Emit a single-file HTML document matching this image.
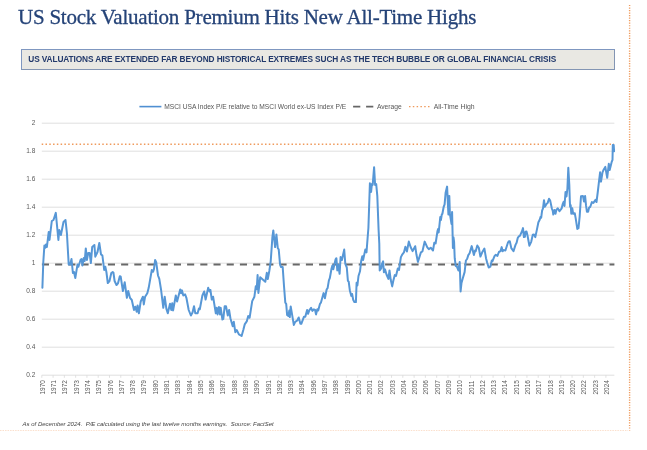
<!DOCTYPE html>
<html><head><meta charset="utf-8">
<title>US Stock Valuation Premium Hits New All-Time Highs</title>
<style>
html,body{margin:0;padding:0;background:#fff;}
body{width:647px;height:450px;position:relative;overflow:hidden;font-family:"Liberation Sans",sans-serif;}
#title{position:absolute;left:18px;top:1.9px;font-family:"Liberation Serif",serif;font-size:21px;line-height:30px;color:#254378;white-space:nowrap;letter-spacing:-0.23px;-webkit-text-stroke:0.3px #254378;}
#box{position:absolute;left:20.9px;top:49.4px;width:592px;height:18.6px;background:#e9e8e3;border:1.1px solid #7f97c0;border-right-width:1.6px;border-bottom-width:1.6px;border-right-color:#8395b3;border-bottom-color:#8395b3;}
#sub{position:absolute;left:28.3px;top:52.3px;font-size:8.3px;line-height:14px;font-weight:bold;color:#22396b;white-space:nowrap;letter-spacing:-0.11px;}
#foot{position:absolute;left:22.6px;top:419.1px;font-size:6px;line-height:10px;font-style:italic;color:#444;white-space:nowrap;}
svg{position:absolute;left:0;top:0;}
.ax{font-family:"Liberation Sans",sans-serif;font-size:6.5px;fill:#5a5a5a;}
.lg{font-family:"Liberation Sans",sans-serif;font-size:6.7px;fill:#555;}
</style></head><body>
<div id="title">US Stock Valuation Premium Hits New All-Time Highs</div>
<div id="box"></div>
<div id="sub">US VALUATIONS ARE EXTENDED FAR BEYOND HISTORICAL EXTREMES SUCH AS THE TECH BUBBLE OR GLOBAL FINANCIAL CRISIS</div>
<svg width="647" height="450" viewBox="0 0 647 450">
<g id="grid">
<line x1="41.8" y1="123.2" x2="614.4" y2="123.2" stroke="#dfdfdf" stroke-width="1"/>
<line x1="41.8" y1="151.2" x2="614.4" y2="151.2" stroke="#dfdfdf" stroke-width="1"/>
<line x1="41.8" y1="179.2" x2="614.4" y2="179.2" stroke="#dfdfdf" stroke-width="1"/>
<line x1="41.8" y1="207.2" x2="614.4" y2="207.2" stroke="#dfdfdf" stroke-width="1"/>
<line x1="41.8" y1="235.2" x2="614.4" y2="235.2" stroke="#dfdfdf" stroke-width="1"/>
<line x1="41.8" y1="263.2" x2="614.4" y2="263.2" stroke="#dfdfdf" stroke-width="1"/>
<line x1="41.8" y1="291.2" x2="614.4" y2="291.2" stroke="#dfdfdf" stroke-width="1"/>
<line x1="41.8" y1="319.2" x2="614.4" y2="319.2" stroke="#dfdfdf" stroke-width="1"/>
<line x1="41.8" y1="347.2" x2="614.4" y2="347.2" stroke="#dfdfdf" stroke-width="1"/>
<line x1="41.8" y1="375.2" x2="614.4" y2="375.2" stroke="#dfdfdf" stroke-width="1"/>
<line x1="41.80" y1="375.2" x2="41.80" y2="377.8" stroke="#d9d9d9" stroke-width="0.8"/>
<line x1="53.08" y1="375.2" x2="53.08" y2="377.8" stroke="#d9d9d9" stroke-width="0.8"/>
<line x1="64.36" y1="375.2" x2="64.36" y2="377.8" stroke="#d9d9d9" stroke-width="0.8"/>
<line x1="75.65" y1="375.2" x2="75.65" y2="377.8" stroke="#d9d9d9" stroke-width="0.8"/>
<line x1="86.93" y1="375.2" x2="86.93" y2="377.8" stroke="#d9d9d9" stroke-width="0.8"/>
<line x1="98.21" y1="375.2" x2="98.21" y2="377.8" stroke="#d9d9d9" stroke-width="0.8"/>
<line x1="109.49" y1="375.2" x2="109.49" y2="377.8" stroke="#d9d9d9" stroke-width="0.8"/>
<line x1="120.77" y1="375.2" x2="120.77" y2="377.8" stroke="#d9d9d9" stroke-width="0.8"/>
<line x1="132.06" y1="375.2" x2="132.06" y2="377.8" stroke="#d9d9d9" stroke-width="0.8"/>
<line x1="143.34" y1="375.2" x2="143.34" y2="377.8" stroke="#d9d9d9" stroke-width="0.8"/>
<line x1="154.62" y1="375.2" x2="154.62" y2="377.8" stroke="#d9d9d9" stroke-width="0.8"/>
<line x1="165.90" y1="375.2" x2="165.90" y2="377.8" stroke="#d9d9d9" stroke-width="0.8"/>
<line x1="177.18" y1="375.2" x2="177.18" y2="377.8" stroke="#d9d9d9" stroke-width="0.8"/>
<line x1="188.47" y1="375.2" x2="188.47" y2="377.8" stroke="#d9d9d9" stroke-width="0.8"/>
<line x1="199.75" y1="375.2" x2="199.75" y2="377.8" stroke="#d9d9d9" stroke-width="0.8"/>
<line x1="211.03" y1="375.2" x2="211.03" y2="377.8" stroke="#d9d9d9" stroke-width="0.8"/>
<line x1="222.31" y1="375.2" x2="222.31" y2="377.8" stroke="#d9d9d9" stroke-width="0.8"/>
<line x1="233.59" y1="375.2" x2="233.59" y2="377.8" stroke="#d9d9d9" stroke-width="0.8"/>
<line x1="244.88" y1="375.2" x2="244.88" y2="377.8" stroke="#d9d9d9" stroke-width="0.8"/>
<line x1="256.16" y1="375.2" x2="256.16" y2="377.8" stroke="#d9d9d9" stroke-width="0.8"/>
<line x1="267.44" y1="375.2" x2="267.44" y2="377.8" stroke="#d9d9d9" stroke-width="0.8"/>
<line x1="278.72" y1="375.2" x2="278.72" y2="377.8" stroke="#d9d9d9" stroke-width="0.8"/>
<line x1="290.00" y1="375.2" x2="290.00" y2="377.8" stroke="#d9d9d9" stroke-width="0.8"/>
<line x1="301.29" y1="375.2" x2="301.29" y2="377.8" stroke="#d9d9d9" stroke-width="0.8"/>
<line x1="312.57" y1="375.2" x2="312.57" y2="377.8" stroke="#d9d9d9" stroke-width="0.8"/>
<line x1="323.85" y1="375.2" x2="323.85" y2="377.8" stroke="#d9d9d9" stroke-width="0.8"/>
<line x1="335.13" y1="375.2" x2="335.13" y2="377.8" stroke="#d9d9d9" stroke-width="0.8"/>
<line x1="346.41" y1="375.2" x2="346.41" y2="377.8" stroke="#d9d9d9" stroke-width="0.8"/>
<line x1="357.70" y1="375.2" x2="357.70" y2="377.8" stroke="#d9d9d9" stroke-width="0.8"/>
<line x1="368.98" y1="375.2" x2="368.98" y2="377.8" stroke="#d9d9d9" stroke-width="0.8"/>
<line x1="380.26" y1="375.2" x2="380.26" y2="377.8" stroke="#d9d9d9" stroke-width="0.8"/>
<line x1="391.54" y1="375.2" x2="391.54" y2="377.8" stroke="#d9d9d9" stroke-width="0.8"/>
<line x1="402.82" y1="375.2" x2="402.82" y2="377.8" stroke="#d9d9d9" stroke-width="0.8"/>
<line x1="414.11" y1="375.2" x2="414.11" y2="377.8" stroke="#d9d9d9" stroke-width="0.8"/>
<line x1="425.39" y1="375.2" x2="425.39" y2="377.8" stroke="#d9d9d9" stroke-width="0.8"/>
<line x1="436.67" y1="375.2" x2="436.67" y2="377.8" stroke="#d9d9d9" stroke-width="0.8"/>
<line x1="447.95" y1="375.2" x2="447.95" y2="377.8" stroke="#d9d9d9" stroke-width="0.8"/>
<line x1="459.23" y1="375.2" x2="459.23" y2="377.8" stroke="#d9d9d9" stroke-width="0.8"/>
<line x1="470.52" y1="375.2" x2="470.52" y2="377.8" stroke="#d9d9d9" stroke-width="0.8"/>
<line x1="481.80" y1="375.2" x2="481.80" y2="377.8" stroke="#d9d9d9" stroke-width="0.8"/>
<line x1="493.08" y1="375.2" x2="493.08" y2="377.8" stroke="#d9d9d9" stroke-width="0.8"/>
<line x1="504.36" y1="375.2" x2="504.36" y2="377.8" stroke="#d9d9d9" stroke-width="0.8"/>
<line x1="515.64" y1="375.2" x2="515.64" y2="377.8" stroke="#d9d9d9" stroke-width="0.8"/>
<line x1="526.93" y1="375.2" x2="526.93" y2="377.8" stroke="#d9d9d9" stroke-width="0.8"/>
<line x1="538.21" y1="375.2" x2="538.21" y2="377.8" stroke="#d9d9d9" stroke-width="0.8"/>
<line x1="549.49" y1="375.2" x2="549.49" y2="377.8" stroke="#d9d9d9" stroke-width="0.8"/>
<line x1="560.77" y1="375.2" x2="560.77" y2="377.8" stroke="#d9d9d9" stroke-width="0.8"/>
<line x1="572.05" y1="375.2" x2="572.05" y2="377.8" stroke="#d9d9d9" stroke-width="0.8"/>
<line x1="583.34" y1="375.2" x2="583.34" y2="377.8" stroke="#d9d9d9" stroke-width="0.8"/>
<line x1="594.62" y1="375.2" x2="594.62" y2="377.8" stroke="#d9d9d9" stroke-width="0.8"/>
<line x1="605.90" y1="375.2" x2="605.90" y2="377.8" stroke="#d9d9d9" stroke-width="0.8"/>
</g>
<g id="ylabels">
<text x="35.3" y="125.2" text-anchor="end" class="ax">2</text>
<text x="35.3" y="153.2" text-anchor="end" class="ax">1.8</text>
<text x="35.3" y="181.2" text-anchor="end" class="ax">1.6</text>
<text x="35.3" y="209.2" text-anchor="end" class="ax">1.4</text>
<text x="35.3" y="237.2" text-anchor="end" class="ax">1.2</text>
<text x="35.3" y="265.2" text-anchor="end" class="ax">1</text>
<text x="35.3" y="293.2" text-anchor="end" class="ax">0.8</text>
<text x="35.3" y="321.2" text-anchor="end" class="ax">0.6</text>
<text x="35.3" y="349.2" text-anchor="end" class="ax">0.4</text>
<text x="35.3" y="377.2" text-anchor="end" class="ax">0.2</text>
</g>
<g id="xlabels">
<text transform="translate(44.90 394.6) rotate(-90)" class="ax">1970</text>
<text transform="translate(56.18 394.6) rotate(-90)" class="ax">1971</text>
<text transform="translate(67.46 394.6) rotate(-90)" class="ax">1972</text>
<text transform="translate(78.75 394.6) rotate(-90)" class="ax">1973</text>
<text transform="translate(90.03 394.6) rotate(-90)" class="ax">1974</text>
<text transform="translate(101.31 394.6) rotate(-90)" class="ax">1975</text>
<text transform="translate(112.59 394.6) rotate(-90)" class="ax">1976</text>
<text transform="translate(123.87 394.6) rotate(-90)" class="ax">1977</text>
<text transform="translate(135.16 394.6) rotate(-90)" class="ax">1978</text>
<text transform="translate(146.44 394.6) rotate(-90)" class="ax">1979</text>
<text transform="translate(157.72 394.6) rotate(-90)" class="ax">1980</text>
<text transform="translate(169.00 394.6) rotate(-90)" class="ax">1981</text>
<text transform="translate(180.28 394.6) rotate(-90)" class="ax">1983</text>
<text transform="translate(191.57 394.6) rotate(-90)" class="ax">1984</text>
<text transform="translate(202.85 394.6) rotate(-90)" class="ax">1985</text>
<text transform="translate(214.13 394.6) rotate(-90)" class="ax">1986</text>
<text transform="translate(225.41 394.6) rotate(-90)" class="ax">1987</text>
<text transform="translate(236.69 394.6) rotate(-90)" class="ax">1988</text>
<text transform="translate(247.98 394.6) rotate(-90)" class="ax">1989</text>
<text transform="translate(259.26 394.6) rotate(-90)" class="ax">1990</text>
<text transform="translate(270.54 394.6) rotate(-90)" class="ax">1991</text>
<text transform="translate(281.82 394.6) rotate(-90)" class="ax">1992</text>
<text transform="translate(293.10 394.6) rotate(-90)" class="ax">1993</text>
<text transform="translate(304.39 394.6) rotate(-90)" class="ax">1994</text>
<text transform="translate(315.67 394.6) rotate(-90)" class="ax">1996</text>
<text transform="translate(326.95 394.6) rotate(-90)" class="ax">1997</text>
<text transform="translate(338.23 394.6) rotate(-90)" class="ax">1998</text>
<text transform="translate(349.51 394.6) rotate(-90)" class="ax">1999</text>
<text transform="translate(360.80 394.6) rotate(-90)" class="ax">2000</text>
<text transform="translate(372.08 394.6) rotate(-90)" class="ax">2001</text>
<text transform="translate(383.36 394.6) rotate(-90)" class="ax">2002</text>
<text transform="translate(394.64 394.6) rotate(-90)" class="ax">2003</text>
<text transform="translate(405.92 394.6) rotate(-90)" class="ax">2004</text>
<text transform="translate(417.21 394.6) rotate(-90)" class="ax">2005</text>
<text transform="translate(428.49 394.6) rotate(-90)" class="ax">2006</text>
<text transform="translate(439.77 394.6) rotate(-90)" class="ax">2007</text>
<text transform="translate(451.05 394.6) rotate(-90)" class="ax">2009</text>
<text transform="translate(462.33 394.6) rotate(-90)" class="ax">2010</text>
<text transform="translate(473.62 394.6) rotate(-90)" class="ax">2011</text>
<text transform="translate(484.90 394.6) rotate(-90)" class="ax">2012</text>
<text transform="translate(496.18 394.6) rotate(-90)" class="ax">2013</text>
<text transform="translate(507.46 394.6) rotate(-90)" class="ax">2014</text>
<text transform="translate(518.74 394.6) rotate(-90)" class="ax">2015</text>
<text transform="translate(530.03 394.6) rotate(-90)" class="ax">2016</text>
<text transform="translate(541.31 394.6) rotate(-90)" class="ax">2017</text>
<text transform="translate(552.59 394.6) rotate(-90)" class="ax">2018</text>
<text transform="translate(563.87 394.6) rotate(-90)" class="ax">2019</text>
<text transform="translate(575.15 394.6) rotate(-90)" class="ax">2020</text>
<text transform="translate(586.44 394.6) rotate(-90)" class="ax">2022</text>
<text transform="translate(597.72 394.6) rotate(-90)" class="ax">2023</text>
<text transform="translate(609.00 394.6) rotate(-90)" class="ax">2024</text>
</g>
<line x1="41.9" y1="264.5" x2="614.4" y2="264.5" stroke="#686868" stroke-width="2.15" stroke-dasharray="7.1 6.1"/>
<line x1="41.7" y1="144.3" x2="614" y2="144.3" stroke="#ef9a5c" stroke-width="1.4" stroke-dasharray="1.5 2.285"/>
<polyline fill="none" stroke="#5797d6" stroke-width="2" stroke-linejoin="round" stroke-linecap="round" points="42.4,287.8 43.3,262 44.4,245.5 45.3,247.8 46,244.4 46.9,247 48.7,232 49.5,240 51.8,221 53.5,220 55.8,212.9 58.4,240 59.3,230 60.9,235 63.5,222 65.5,220 66.9,233 68.7,264.4 70.2,264.4 71.5,259 72.9,273 74,272 75.3,278 77.5,264.4 78.4,266.7 80.7,259.5 81.6,259 82.4,265.5 83.8,258 84.7,261 85.8,248.4 86.9,260 88.2,253 89.6,253 90.9,263 92.2,247 94.4,245 95.3,256.7 97.5,252 99.3,243 101,254.4 102.4,255.5 104.2,270 105.3,266.7 106.4,272 107.8,283 109.5,281 111.3,273 112.7,272 113.4,272.5 114.6,281 116.5,285 118,283.3 119.8,276.2 120.7,276.7 122.9,291 124.7,282.2 126.9,297.8 128.2,291 130,297.8 131.8,300 134,310 135.3,306.7 136.7,311.8 137.6,305.5 138.9,313.3 140.7,301.5 142.9,296.7 143.8,304.4 145.1,296.7 147.3,293.3 148.7,287.8 151.8,270 153.1,271.8 154,268.9 155.1,260 156.2,262.2 158,275.5 159.3,278.9 161.1,290 163.3,307.8 164.7,296.7 166.4,308.9 167.8,313.3 170,303.8 171.3,310 172.2,303.3 173.1,310.4 175.8,295.5 177.1,301.5 180.2,289.5 181.1,293.3 182,290.4 183.3,295.5 185.1,294.4 186.4,297.8 188.7,310 190.9,315.5 192.5,312.5 194,306.2 195.3,313.3 197.6,313.3 198.9,308.4 199.8,309.3 202.4,295.5 204.2,291.5 205.6,299.5 208.2,287.8 209.6,291.5 210.4,290 211.8,299.5 213.1,296.7 215.8,313.3 216.7,307.8 217.6,314.4 218.9,307.1 220,314.4 220.7,307.8 222.4,319.5 223.3,318.9 224.7,306.2 226,306.2 227.8,315.5 229.1,310 230.4,318.2 232.7,326.2 233.8,321.8 235.3,332.2 236.7,330 238.9,334.4 241.6,336 243.3,330 244.7,324.4 246.9,321.1 248.2,316 249.6,317.8 252.2,301.1 254.4,296.7 255.8,286.2 256.7,289.3 257.6,275.1 258.4,292.9 260.2,277.3 263.3,280 265.3,281.8 266.8,272.8 267.8,279.1 269.3,271 270.7,261.5 272.4,237.1 273.3,230.4 275.1,247.1 276.4,234.4 277.8,248.2 278.7,249.3 280,263.8 280.9,267.1 282.7,267.1 284,286 285.3,302.7 286.2,303.8 287.1,314.9 288.4,316 289.3,310.4 289.8,317.1 290.7,306.4 292.9,319.3 293.8,324.9 295.1,322 297.3,320.4 298.7,317.5 300.4,323.8 301.3,323.8 304,316.7 305.3,316.7 307.1,310 308,313.8 309.3,310.4 311.1,307.8 312.4,310.9 313.8,309.3 315.1,310 316,314.4 317.3,309.3 318.2,310.4 320,303.8 320.9,302.7 323.6,293.1 324.9,298.2 326.7,289.3 327.6,288.2 328.9,280.4 329.8,278.2 331.6,268.2 332.4,265.5 333.3,269.3 335.6,259.3 336.4,258.2 337.3,270.4 338.2,264.9 339.6,273.8 340.6,257.1 341.9,260 344.2,249.6 345.3,263.8 346.8,267.5 347.9,280.8 348.7,281.7 349.8,290.2 351.3,295.9 352.1,294 353.2,299.7 354.4,302.1 355.9,302.1 356.6,282.7 357.4,285.5 358.5,276 360,271.3 361.2,260.9 362.3,256.2 363.1,260 365.3,249.6 366.5,252.4 367.6,238.2 368.4,228 369.9,183.3 371.1,191.9 371.9,184.1 372.7,184.9 374.1,167.2 375.1,184.9 376.2,184.1 377.3,195.8 378.6,230 379.3,243.9 379.7,270.4 381.2,268.5 382,263.8 383.1,261.3 383.9,272.3 385,269.4 386.5,274.5 388.4,278.9 389.5,270.4 390.7,279.8 392.2,286.4 393.3,280.8 394.8,275.1 396,276 397.8,268.5 399,270 400.9,257.1 402.4,254.3 403.9,252.4 405.4,246.7 406.9,251.5 408.8,241.6 410.7,247.3 412.6,251.1 415.2,246.2 416.4,254.3 417.9,261.9 420.9,252.4 422.4,251.5 424.7,241.6 427.3,247.3 428.8,249.2 430.7,247.7 433,250.5 434.3,242.7 435.6,243.5 437.5,231 438.1,229 438.7,232.4 440.3,216.9 440.9,220 441.8,214.5 442.4,213.8 443.7,206.8 444.6,204.4 445.6,192.8 447.1,186.6 448.4,214.5 449.3,195.9 449.9,213.8 451.5,223.9 452.1,211.9 452.9,248.1 453.5,237.3 454.1,242 454.7,258.2 455.7,265.9 456.9,266.7 458.4,270.5 459.7,262 460.6,291.4 461.5,282.9 462.8,278.3 464.6,272.1 465.9,260.5 467.1,259 468.3,255.1 469.6,253.2 471.7,246.1 473.9,255.1 475.1,250.5 475.7,251.2 477.3,245.5 478.8,247.7 480.4,256.6 482.2,252.3 484.4,248.6 486,258.2 487.2,262.8 488.7,267.5 490.3,266.7 491.8,260.5 492.4,261.3 494.6,255.9 495.8,254.8 497.4,255.9 498.9,252 500.5,251.2 501.7,247.1 502.6,251.2 503.9,250.1 505.4,250.5 507.9,242.7 508.8,241.2 509.8,241.2 511.3,248.1 513.5,251.2 514.7,247.4 515.6,244.6 516.6,242.7 517.8,237.8 519,236.2 519.9,235.9 521.8,231.7 523,228.1 523.9,237.1 524.9,236.8 525.5,231.7 526.5,231.5 527.5,235.5 529.4,245.7 531.2,241.8 532.8,234.8 534,234.5 535.3,237.1 536.8,230.1 538.4,222.3 539.6,220 540.6,216.9 541.2,217.7 542.1,210.7 543,208.3 544,200.2 544.9,206.8 546.2,204.4 547.7,202.9 549,198.7 550.2,200.6 551.8,208.3 552.7,210.7 553.3,214.5 554.5,209.9 555.5,213.8 556.4,209.9 557.7,208.3 559.5,211.1 561.7,208.3 562.6,204.4 563.6,201.8 564.5,206 565.5,192 566.5,196.4 567.4,188.7 568.3,167.7 569.3,184.8 569.8,200.6 570.1,206.8 570.7,205.2 571.3,213.8 572.3,208.3 573.2,213.8 574.8,213.3 575.7,218.4 577.3,228.9 578.5,228.2 579.7,216.1 581,196.2 582.9,195.9 584,201.5 585.1,195.9 586,205.2 586.9,211.7 588.1,211.7 589.1,207.6 590.3,206.8 591.9,202.1 593.4,202.9 595.5,199.8 596.5,202 597.9,191 598.8,183.2 600.1,172.3 601,181.7 602.5,172.3 603.5,170 605.3,166.9 607.2,177.8 608.8,163.8 609.7,170 611.6,162.2 612.5,159.9 612.8,145.1 613.7,145.1 614.1,151.3"/>
<g id="legend">
<line x1="139.4" y1="106.6" x2="161.4" y2="106.6" stroke="#4f8fd2" stroke-width="1.6"/>
<text x="164.2" y="108.8" class="lg" textLength="182" lengthAdjust="spacingAndGlyphs">MSCI USA Index P/E relative to MSCI World ex-US Index P/E</text>
<line x1="353.1" y1="106.6" x2="373.5" y2="106.6" stroke="#666" stroke-width="1.7" stroke-dasharray="7.2 5.8"/>
<text x="376.9" y="108.8" class="lg" textLength="24.9" lengthAdjust="spacingAndGlyphs">Average</text>
<line x1="409" y1="106.6" x2="430" y2="106.6" stroke="#ef9a5c" stroke-width="1.4" stroke-dasharray="1.5 2.3"/>
<text x="433.7" y="108.8" class="lg" textLength="40.9" lengthAdjust="spacingAndGlyphs">All-Time High</text>
</g>
<line x1="629.6" y1="4.9" x2="629.6" y2="430.5" stroke="#ef9a5c" stroke-width="1.4" stroke-dasharray="1.2 1.33"/>
<line x1="0" y1="430.5" x2="628" y2="430.5" stroke="#fad8c0" stroke-width="0.8" stroke-dasharray="1.5 1.02"/>
</svg>
<div id="foot">As of December 2024.&nbsp; P/E calculated using the last twelve months earnings.&nbsp; Source: FactSet</div>
</body></html>
